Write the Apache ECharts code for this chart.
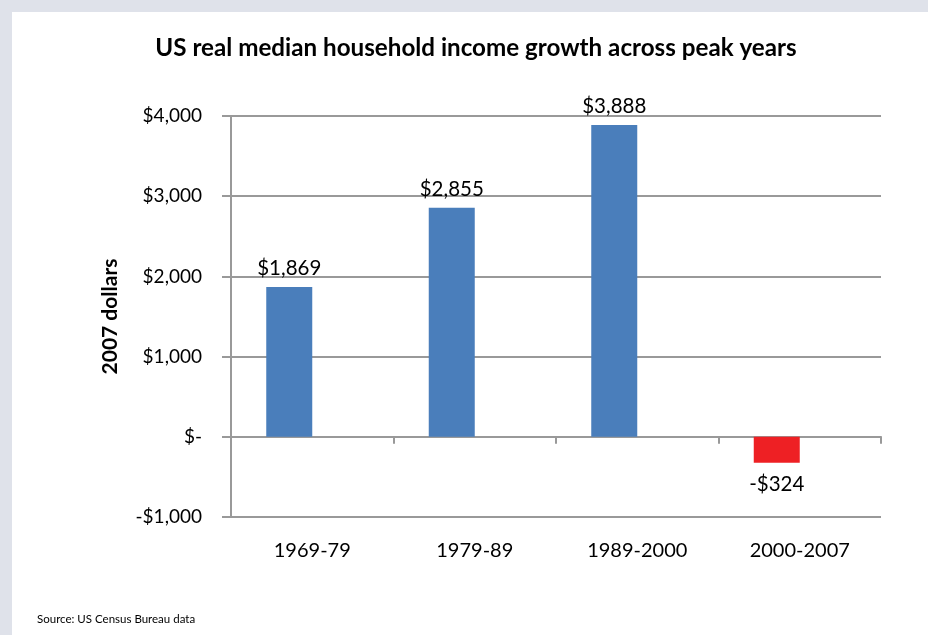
<!DOCTYPE html>
<html><head><meta charset="utf-8">
<script src="https://cdn.jsdelivr.net/npm/echarts@6/dist/echarts.min.js"></script>
<style>html,body{margin:0;padding:0;background:#dfe2ea}#c{width:928px;height:635px}</style>
</head><body><div id="c"></div>
<script>
const categories = ["1969-79", "1979-89", "1989-2000", "2000-2007"];
const values = [1869, 2855, 3888, -324];
const barColors = ["#4a7ebb", "#4a7ebb", "#4a7ebb", "#ee2024"];
const yTicks = [-1000, 0, 1000, 2000, 3000, 4000];

function money(v) {
  if (v === 0) return "$-";
  const s = Math.abs(v).toLocaleString("en-US");
  return (v < 0 ? "-$" : "$") + s;
}

const FONT = "Lato, 'Open Sans', sans-serif";
const chart = echarts.init(document.getElementById("c"), null, {renderer: "canvas"});
chart.setOption({
  backgroundColor: "#dfe2ea",
  animation: false,
  graphic: [
    {type: "rect", z: -10, shape: {x: 12, y: 12, width: 916, height: 623}, style: {fill: "#ffffff"}},
    {type: "text", left: 37, top: 613, style: {text: "Source: US Census Bureau data", font: "11.5px " + FONT, fill: "#000"}}
  ],
  title: {
    text: "US real median household income growth across peak years",
    left: 471, top: 31, textAlign: "center",
    textStyle: {fontFamily: FONT, fontWeight: "bold", fontSize: 24.2, color: "#000"}
  },
  grid: {left: 231, right: 47, top: 116, bottom: 118},
  xAxis: {
    type: "category",
    data: categories,
    axisLine: {onZero: true, lineStyle: {color: "#999999", width: 2}},
    axisTick: {show: true, length: 7, lineStyle: {color: "#999999", width: 2}},
    axisLabel: {margin: 24, fontFamily: FONT, fontSize: 20, color: "#000"},
    splitLine: {show: false}
  },
  yAxis: {
    type: "value",
    min: yTicks[0], max: yTicks[yTicks.length - 1], interval: 1000,
    name: "2007 dollars",
    nameLocation: "middle",
    nameGap: 110,
    nameTextStyle: {fontFamily: FONT, fontWeight: "bold", fontSize: 21, color: "#000"},
    axisLine: {show: true, lineStyle: {color: "#999999", width: 2}},
    axisTick: {show: true, length: 9, lineStyle: {color: "#999999", width: 2}},
    axisLabel: {margin: 29, fontFamily: FONT, fontSize: 19, color: "#000", formatter: money},
    splitLine: {show: true, lineStyle: {color: "#999999", width: 2}}
  },
  series: [{
    type: "bar",
    barWidth: 46,
    barGap: "0%",
    data: values.map((v, i) => ({value: v, itemStyle: {color: barColors[i]},
      label: {position: v < 0 ? "bottom" : "top", distance: v < 0 ? 11 : 8}})),
    label: {
      show: true, fontFamily: FONT, fontSize: 20.5, color: "#000",
      formatter: p => money(p.value)
    }
  }, {
    type: "bar",
    barWidth: 46,
    barGap: "0%",
    data: categories.map(() => null)
  }]
});
</script></body></html>
